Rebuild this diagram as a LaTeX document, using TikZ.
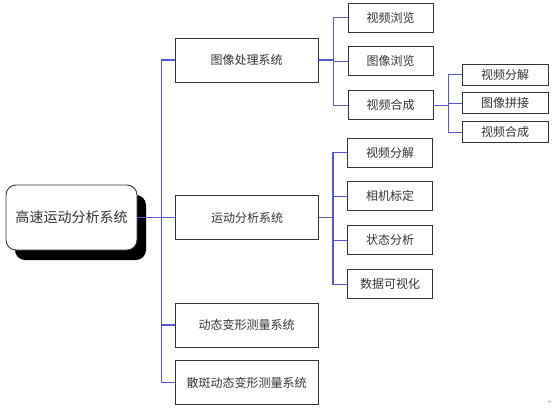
\documentclass[tikz,border=0pt]{standalone}
\usepackage{fontspec}
\newfontfamily\cjk{Noto Sans CJK SC}
\usetikzlibrary{positioning,shadows}
\definecolor{linkblue}{RGB}{85,85,215}

\begin{document}
\begin{tikzpicture}[x=1pt,y=-1pt,
  box/.style={draw=black!80, line width=0.9pt, fill=white, text=black!80,
    font=\cjk\fontsize{12}{14}\selectfont},
  sys/.style={box, minimum width=143pt, minimum height=44pt},
  leaf/.style={box, minimum width=85pt, minimum height=29pt},
  subleaf/.style={box, minimum width=86pt, minimum height=21pt},
  link/.style={draw=linkblue, line width=1.3pt}]
  \useasboundingbox (0,0) rectangle (556,407);

  \node[box, rounded corners=10pt, minimum width=131pt, minimum height=65pt,
    font=\cjk\fontsize{14}{16}\selectfont,
    drop shadow={shadow xshift=9pt, shadow yshift=-10pt, fill=black, opacity=1}]
    (root) at (71.5,217.5) {高速运动分析系统};

  % first level
  \node[sys] (imgsys) at (246.5,60) {图像处理系统};
  \node[sys] (motion) at (247,217.5) {运动分析系统};
  \node[sys] (deform) at (246.5,325) {动态变形测量系统};
  \node[sys] (speckle) at (246.5,382.5) {散斑动态变形测量系统};

  % image processing
  \node[leaf] (vbrowse) at (390.5,17.5) {视频浏览};
  \node[leaf, below=14pt of vbrowse] (ibrowse) {图像浏览};
  \node[leaf, below=14pt of ibrowse] (vcompose) {视频合成};
  \node[subleaf] (vsplit) at (505,74.5) {视频分解};
  \node[subleaf, below=7pt of vsplit] (stitch) {图像拼接};
  \node[subleaf, below=7pt of stitch] (vmerge) {视频合成};

  % motion analysis
  \node[leaf] (msplit) at (390,152.5) {视频分解};
  \node[leaf, below=14pt of msplit] (calib) {相机标定};
  \node[leaf, below=14pt of calib] (state) {状态分析};
  \node[leaf, below=14pt of state] (visual) {数据可视化};

  \node[font=\tiny, text=black!60] (mark) at (550,402) {+};

  % connectors
  \draw[link] (root.east) -- ++(24,0) coordinate (trunk);
  \foreach \n in {imgsys,motion,deform,speckle}
    \draw[link] (trunk) |- (\n.west);
  \draw[link] (imgsys.east) -- ++(15,0) coordinate (imgfork);
  \foreach \n in {vbrowse,ibrowse,vcompose}
    \draw[link] (imgfork) |- (\n.west);
  \draw[link] (vcompose.east) -- ++(15,0) coordinate (subfork);
  \foreach \n in {vsplit,stitch,vmerge}
    \draw[link] (subfork) |- (\n.west);
  \draw[link] (motion.east) -- ++(14,0) coordinate (motfork);
  \foreach \n in {msplit,calib,state,visual}
    \draw[link] (motfork) |- (\n.west);
\end{tikzpicture}
\end{document}
